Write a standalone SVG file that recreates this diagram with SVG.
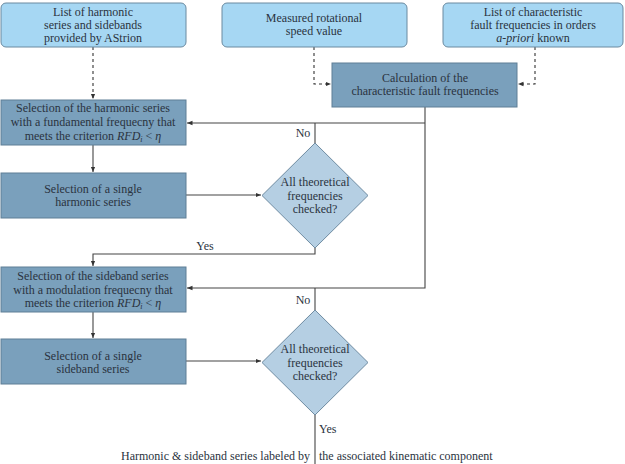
<svg xmlns="http://www.w3.org/2000/svg" width="625" height="464" viewBox="0 0 625 464" font-family="'Liberation Serif', 'Times New Roman', serif" font-size="12">
<style>
text{fill:#2a3340;text-anchor:middle}
.in{fill:#a6d7f3;stroke:#6b8aa0;stroke-width:1}
.pr{fill:#7aa0bc;stroke:#5f7f96;stroke-width:1}
.dc{fill:#b5cfe3;stroke:#6f8ca2;stroke-width:1}
.ln{fill:none;stroke:#444;stroke-width:1.1}
.ds{fill:none;stroke:#333;stroke-width:1.1;stroke-dasharray:3,3}
.lb{text-anchor:start}
.m{font-style:italic}
</style>
<defs>
<marker id="ah" viewBox="0 0 6 6" refX="6" refY="3" markerWidth="5" markerHeight="5" orient="auto">
<path d="M0,0.5 L6,3 L0,5.5 z" fill="#333"/>
</marker>
</defs>
<g id="connectors">
<path class="ds" d="M93,47 V99" marker-end="url(#ah)"/>
<path class="ds" d="M314,47 V84 H331" marker-end="url(#ah)"/>
<path class="ds" d="M535,47 V84 H518" marker-end="url(#ah)"/>
<path class="ln" d="M425,107 V288 H187" marker-end="url(#ah)"/>
<path class="ln" d="M425,123 H187" marker-end="url(#ah)"/>
<path class="ln" d="M315,143 V123"/>
<path class="ln" d="M93,145 V172" marker-end="url(#ah)"/>
<path class="ln" d="M186,195 H261" marker-end="url(#ah)"/>
<path class="ln" d="M315,248 V254 H93 V266" marker-end="url(#ah)"/>
<path class="ln" d="M315,310 V288"/>
<path class="ln" d="M93,312 V338" marker-end="url(#ah)"/>
<path class="ln" d="M186,361 H261" marker-end="url(#ah)"/>
<path class="ln" d="M315,415 V464"/>
<text x="303" y="137">No</text>
<text x="303" y="304">No</text>
<text x="205" y="250">Yes</text>
<text class="lb" x="319" y="433">Yes</text>
</g>
<g id="in1"><rect class="in" x="1" y="3" width="185" height="44" rx="5"/>
<text x="93" y="15.5">List of harmonic</text><text x="93" y="28.5">series and sidebands</text><text x="93" y="41.5">provided by AStrion</text></g>
<g id="in2"><rect class="in" x="222" y="3" width="185" height="44" rx="5"/>
<text x="314" y="22">Measured rotational</text><text x="314" y="35">speed value</text></g>
<g id="in3"><rect class="in" x="443" y="3" width="180" height="44" rx="5"/>
<text x="533" y="15.5">List of characteristic</text><text x="533" y="28.5">fault frequencies in orders</text><text x="533" y="41.5"><tspan class="m">a-priori</tspan> known</text></g>
<g id="calc"><rect class="pr" x="332" y="63" width="185" height="44"/>
<text x="425" y="82">Calculation of the</text><text x="425" y="95">characteristic fault frequencies</text></g>
<g id="selA"><rect class="pr" x="1" y="100" width="185" height="45"/>
<text x="93" y="111.5">Selection of the harmonic series</text><text x="93" y="125.5">with a fundamental frequecny that</text><text x="93" y="139.5">meets the criterion <tspan class="m">RFD</tspan><tspan class="m" font-size="8" dy="2">i</tspan><tspan dy="-2"> &lt; </tspan><tspan class="m">η</tspan></text></g>
<g id="selB"><rect class="pr" x="1" y="173" width="185" height="45"/>
<text x="93" y="193">Selection of a single</text><text x="93" y="206">harmonic series</text></g>
<g id="dec1"><path class="dc" d="M315,143 L368,195.5 L315,248 L262,195.5 z"/>
<text x="315" y="186">All theoretical</text><text x="315" y="200">frequencies</text><text x="315" y="213">checked?</text></g>
<g id="selC"><rect class="pr" x="1" y="267" width="185" height="45"/>
<text x="93" y="280">Selection of the sideband series</text><text x="93" y="293.5">with a modulation frequecny that</text><text x="93" y="307">meets the criterion <tspan class="m">RFD</tspan><tspan class="m" font-size="8" dy="2">i</tspan><tspan dy="-2"> &lt; </tspan><tspan class="m">η</tspan></text></g>
<g id="selD"><rect class="pr" x="1" y="339" width="185" height="45"/>
<text x="93" y="360">Selection of a single</text><text x="93" y="373">sideband series</text></g>
<g id="dec2"><path class="dc" d="M315,310 L368,362.5 L315,415 L262,362.5 z"/>
<text x="315" y="353">All theoretical</text><text x="315" y="366.5">frequencies</text><text x="315" y="380">checked?</text></g>
<g id="out">
<text x="310" y="460" style="text-anchor:end">Harmonic &amp; sideband series labeled by</text>
<text class="lb" x="319" y="460">the associated kinematic component</text>
</g>
</svg>
